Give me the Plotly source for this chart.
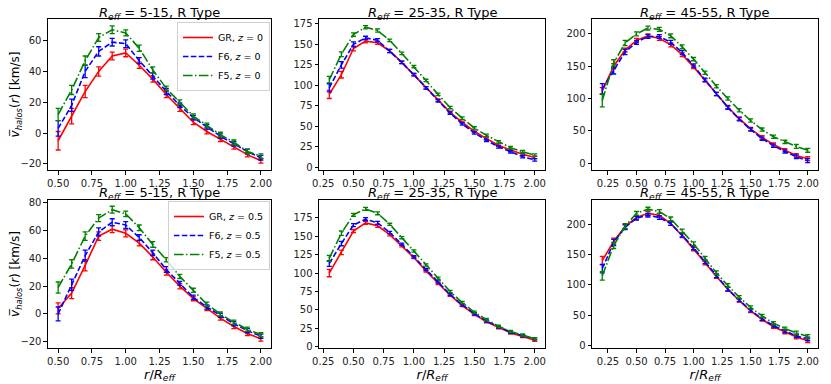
import plotly.graph_objects as go
from plotly.subplots import make_subplots

# radial bins (r / R_eff)
r_small = [0.5, 0.6, 0.7, 0.8, 0.9, 1.0, 1.1, 1.2, 1.3, 1.4, 1.5, 1.6, 1.7, 1.8, 1.9, 2.0]
r_mid = [0.3, 0.4, 0.5, 0.6, 0.7, 0.8, 0.9, 1.0, 1.1, 1.2, 1.3, 1.4, 1.5, 1.6, 1.7, 1.8, 1.9, 2.0]
r_large = [0.2, 0.3, 0.4, 0.5, 0.6, 0.7, 0.8, 0.9, 1.0, 1.1, 1.2, 1.3, 1.4, 1.5, 1.6, 1.7, 1.8, 1.9, 2.0]

# R_eff = 5-15, z = 0
gr_5_z0 = [-5, 11, 27, 40, 50, 52, 44, 35, 25, 16, 7, 1, -4, -9, -14, -18]
f6_5_z0 = [3, 18, 40, 53, 59, 58, 47, 37, 27, 18, 10, 4, -2, -7, -12, -16]
f5_5_z0 = [12, 28, 47, 62, 67, 65, 55, 41, 29, 20, 11, 5, -1, -6, -12, -15]
gr_5_z0_err = [6, 5, 4, 3, 2.5, 2.5, 2, 2, 2, 2, 1.5, 1.5, 1.5, 1.5, 1.5, 1.5]
f6_5_z0_err = [5, 4, 4, 3, 2.5, 2.5, 2, 2, 2, 1.5, 1.5, 1.5, 1.5, 1.5, 1.5, 1.5]
f5_5_z0_err = [4, 3, 3, 2.5, 2.5, 2, 2, 2, 1.5, 1.5, 1.5, 1.5, 1.5, 1.5, 1.5, 1.5]

# R_eff = 25-35, z = 0
gr_25_z0 = [89, 113, 145, 154, 152, 142, 128, 113, 97, 82, 67, 55, 44, 35, 27, 21, 16, 12]
f6_25_z0 = [97, 125, 150, 158, 155, 142, 128, 113, 97, 81, 66, 53, 42, 33, 25, 19, 13, 9]
f5_25_z0 = [107, 138, 162, 171, 167, 155, 139, 123, 106, 89, 73, 60, 48, 39, 31, 24, 19, 15]
gr_25_z0_err = [5, 4, 3, 2, 2, 2, 1.5, 1.5, 1.5, 1.5, 1.5, 1.5, 1.5, 1.5, 1.5, 1.5, 1.5, 1.5]
f6_25_z0_err = [5, 4, 3, 2, 2, 2, 1.5, 1.5, 1.5, 1.5, 1.5, 1.5, 1.5, 1.5, 1.5, 1.5, 1.5, 1.5]
f5_25_z0_err = [4, 3, 2, 2, 2, 1.5, 1.5, 1.5, 1.5, 1.5, 1.5, 1.5, 1.5, 1.5, 1.5, 1.5, 1.5, 1.5]

# R_eff = 45-55, z = 0
gr_45_z0 = [112, 150, 175, 190, 197, 193, 183, 168, 149, 128, 107, 87, 69, 53, 40, 29, 20, 12, 7]
f6_45_z0 = [115, 143, 172, 187, 196, 196, 187, 171, 151, 129, 107, 86, 68, 52, 38, 27, 18, 10, 4]
f5_45_z0 = [97, 155, 186, 200, 209, 207, 197, 180, 161, 140, 119, 100, 82, 66, 52, 41, 33, 26, 20]
gr_45_z0_err = [5, 4, 3, 3, 3, 3, 3, 3, 2.5, 2.5, 2.5, 2.5, 2.5, 2.5, 2.5, 2.5, 2.5, 3, 3]
f6_45_z0_err = [8, 5, 4, 3, 3, 3, 3, 3, 2.5, 2.5, 2.5, 2.5, 2.5, 2.5, 2.5, 2.5, 2.5, 3, 3]
f5_45_z0_err = [10, 5, 4, 3, 3, 3, 3, 3, 2.5, 2.5, 2.5, 2.5, 2.5, 2.5, 2.5, 2.5, 2.5, 3, 3]

# R_eff = 5-15, z = 0.5
gr_5_z05 = [4, 15, 35, 56, 61, 58, 51, 41, 30, 20, 11, 4, -3, -9, -14, -18]
f6_5_z05 = [0, 21, 42, 59, 66, 64, 55, 44, 32, 22, 12, 5, -1, -7, -12, -16]
f5_5_z05 = [19, 36, 56, 69, 75, 72, 62, 50, 39, 27, 17, 7, 0, -6, -11, -15]
gr_5_z05_err = [4, 4, 4, 3, 2.5, 2.5, 2, 2, 2, 2, 1.5, 1.5, 1.5, 1.5, 1.5, 1.5]
f6_5_z05_err = [5, 4, 4, 3, 2.5, 2.5, 2, 2, 2, 1.5, 1.5, 1.5, 1.5, 1.5, 1.5, 1.5]
f5_5_z05_err = [4, 3, 3, 2.5, 2.5, 2, 2, 2, 1.5, 1.5, 1.5, 1.5, 1.5, 1.5, 1.5, 1.5]

# R_eff = 25-35, z = 0.5
gr_25_z05 = [100, 128, 157, 168, 164, 152, 137, 121, 103, 86, 70, 56, 44, 34, 26, 19, 14, 9]
f6_25_z05 = [113, 140, 165, 173, 168, 155, 139, 122, 105, 88, 71, 57, 45, 35, 27, 20, 15, 11]
f5_25_z05 = [120, 154, 179, 187, 181, 166, 148, 130, 111, 93, 75, 60, 47, 37, 28, 21, 16, 11]
gr_25_z05_err = [5, 3, 2, 2, 2, 1.5, 1.5, 1.5, 1.5, 1.5, 1.5, 1.5, 1.5, 1.5, 1.5, 1.5, 1.5, 1.5]
f6_25_z05_err = [4, 3, 2, 2, 2, 1.5, 1.5, 1.5, 1.5, 1.5, 1.5, 1.5, 1.5, 1.5, 1.5, 1.5, 1.5, 1.5]
f5_25_z05_err = [4, 3, 2, 2, 2, 1.5, 1.5, 1.5, 1.5, 1.5, 1.5, 1.5, 1.5, 1.5, 1.5, 1.5, 1.5, 1.5]

# R_eff = 45-55, z = 0.5
gr_45_z05 = [140, 172, 196, 211, 218, 215, 201, 181, 159, 136, 114, 93, 74, 57, 43, 31, 22, 14, 8]
f6_45_z05 = [127, 170, 195, 210, 215, 211, 201, 182, 161, 138, 115, 93, 75, 58, 44, 33, 24, 16, 11]
f5_45_z05 = [115, 165, 197, 218, 225, 221, 209, 189, 168, 144, 120, 99, 80, 63, 49, 37, 28, 21, 15]
gr_45_z05_err = [7, 5, 4, 3, 3, 3, 3, 3, 3, 3, 3, 3, 2.5, 2.5, 2.5, 2.5, 2.5, 3, 3]
f6_45_z05_err = [7, 5, 4, 3, 3, 3, 3, 3, 3, 3, 3, 3, 2.5, 2.5, 2.5, 2.5, 2.5, 3, 3]
f5_45_z05_err = [7, 5, 4, 3, 3, 3, 3, 3, 3, 3, 3, 3, 2.5, 2.5, 2.5, 2.5, 2.5, 3, 3]

titles = ["5-15", "25-35", "45-55"]

panels = [
    (1, 1, r_small, [gr_5_z0, f6_5_z0, f5_5_z0], [gr_5_z0_err, f6_5_z0_err, f5_5_z0_err], "0"),
    (1, 2, r_mid, [gr_25_z0, f6_25_z0, f5_25_z0], [gr_25_z0_err, f6_25_z0_err, f5_25_z0_err], "0"),
    (1, 3, r_large, [gr_45_z0, f6_45_z0, f5_45_z0], [gr_45_z0_err, f6_45_z0_err, f5_45_z0_err], "0"),
    (2, 1, r_small, [gr_5_z05, f6_5_z05, f5_5_z05], [gr_5_z05_err, f6_5_z05_err, f5_5_z05_err], "0.5"),
    (2, 2, r_mid, [gr_25_z05, f6_25_z05, f5_25_z05], [gr_25_z05_err, f6_25_z05_err, f5_25_z05_err], "0.5"),
    (2, 3, r_large, [gr_45_z05, f6_45_z05, f5_45_z05], [gr_45_z05_err, f6_45_z05_err, f5_45_z05_err], "0.5"),
]

models = ["GR", "F6", "F5"]
colors = ["red", "blue", "green"]
# matplotlib-like dash patterns for '--' and '-.'
dashes = ["solid", "5.5px,2.4px", "9.6px,2.4px,1.5px,2.4px"]

FONT = "DejaVu Sans"

fig = make_subplots(rows=2, cols=3)

for row, col, xs, ys, errs, z in panels:
    show = col == 1
    for m, c, d, y, e in zip(models, colors, dashes, ys, errs):
        fig.add_trace(go.Scatter(
            x=xs, y=y,
            mode='lines',
            name=f"{m}, <i>z</i> = {z}",
            line=dict(color=c, dash=d, width=1.6),
            error_y=dict(type='data', array=e, color=c, thickness=1.3, width=2.5),
            showlegend=show,
            legend="legend" if row == 1 else "legend2",
        ), row=row, col=col)

# page has an 8px body margin; figure is 823x376 so the panels land where the reference has them
x_domains = [[0.0486, 0.3196], [0.3779, 0.6525], [0.7096, 0.9842]]
y_domains = [[0.5691, 0.9707], [0.0957, 0.4894]]
x_ranges = [[0.425, 2.075], [0.215, 2.085], [0.11, 2.09]]
y_ranges = [[[-24, 74], [-3.3, 181], [-10.5, 223]],
            [[-24.5, 82], [-1.5, 199], [-4, 240]]]
y_ticks = [[[-20, 0, 20, 40, 60], [0, 25, 50, 75, 100, 125, 150, 175], [0, 50, 100, 150, 200]],
           [[-20, 0, 20, 40, 60, 80], [0, 25, 50, 75, 100, 125, 150, 175], [0, 50, 100, 150, 200]]]
x_ticks = [[0.5, 0.75, 1.0, 1.25, 1.5, 1.75, 2.0],
           [0.25, 0.5, 0.75, 1.0, 1.25, 1.5, 1.75, 2.0],
           [0.25, 0.5, 0.75, 1.0, 1.25, 1.5, 1.75, 2.0]]

axis_style = dict(showline=True, mirror=True, linecolor='black', linewidth=1,
                  ticks='outside', ticklen=3.5, tickwidth=1, tickcolor='black',
                  showgrid=False, zeroline=False, automargin=False,
                  tickfont=dict(family=FONT, size=10, color='#222'))

for r in range(2):
    for c in range(3):
        fig.update_xaxes(domain=x_domains[c], range=x_ranges[c], tickvals=x_ticks[c],
                         ticktext=[f"{v:.2f}" for v in x_ticks[c]],
                         row=r + 1, col=c + 1, **axis_style)
        fig.update_yaxes(domain=y_domains[r], range=y_ranges[r][c], tickvals=y_ticks[r][c],
                         row=r + 1, col=c + 1, **axis_style)
        if r == 1:
            fig.update_xaxes(title=dict(text="<i>r</i>/<i>R</i><sub><i>eff</i></sub>",
                                        font=dict(family=FONT, size=13), standoff=0),
                             row=r + 1, col=c + 1)
        if c == 0:
            fig.update_yaxes(title=dict(text="<i>v̅</i><sub><i>halos</i></sub>(<i>r</i>) [km/s]",
                                        font=dict(family=FONT, size=12), standoff=2),
                             row=r + 1, col=c + 1)

annotations = []
for r in range(2):
    for c in range(3):
        annotations.append(dict(
            text=f"<i>R</i><sub><i>eff</i></sub> = {titles[c]}, R Type",
            x=sum(x_domains[c]) / 2, y=y_domains[r][1],
            xref='paper', yref='paper', xanchor='center', yanchor='middle',
            yshift=6, showarrow=False,
            font=dict(family=FONT, size=13, color='black')))

legend_style = dict(xanchor='right', yanchor='top', bgcolor='rgba(255,255,255,0.8)',
                    bordercolor='#d0d0d0', borderwidth=1,
                    font=dict(family=FONT, size=9.5, color='black'),
                    tracegroupgap=0, itemwidth=30)

fig.update_layout(
    width=823, height=376,
    margin=dict(l=0, r=0, t=0, b=0),
    paper_bgcolor='white', plot_bgcolor='white',
    font=dict(family=FONT, color='black'),
    annotations=annotations,
    legend=dict(x=0.3183, y=0.9628, **legend_style),
    legend2=dict(x=0.3183, y=0.4867, **legend_style),
)

fig.write_html("out.html")
